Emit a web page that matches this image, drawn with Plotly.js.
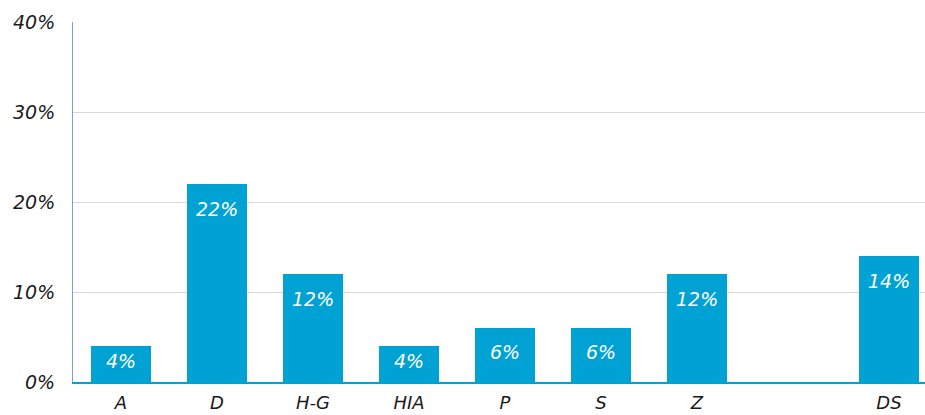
<!DOCTYPE html>
<html>
<head>
<meta charset="utf-8">
<script src="https://cdn.plot.ly/plotly-3.0.1.min.js"></script>
<style>html,body{margin:0;padding:0;background:#fff}#chart{width:925px;height:415px}</style>
</head>
<body>
<div id="chart"></div>
<script>
const categories = ["A", "D", "H-G", "HIA", "P", "S", "Z", " ", "DS"];
const values = [4, 22, 12, 4, 6, 6, 12, null, 14];
const yTickVals = [0, 10, 20, 30, 40];
const yTickText = ["0%", "10%", "20%", "30%", "40%"];

const FONT = "DejaVu Sans, Verdana, sans-serif";
const pxPerUnit = 360 / 40;

const annotations = [];
categories.forEach((c, i) => {
  const v = values[i];
  if (v === null) return;
  annotations.push({
    x: c, y: v, xref: "x", yref: "y",
    text: "<i>" + v + "%</i>",
    showarrow: false,
    yanchor: "middle",
    yshift: -Math.min(25, v * pxPerUnit / 2 - 3),
    font: {family: FONT, size: 19, color: "#ffffff"}
  });
});

const trace = {
  type: "bar",
  x: categories,
  y: values,
  marker: {color: "#00a2d3"},
  hoverinfo: "skip"
};

const layout = {
  width: 925, height: 415,
  margin: {l: 73, r: 0, t: 22, b: 33, pad: 0},
  paper_bgcolor: "#ffffff",
  plot_bgcolor: "#ffffff",
  showlegend: false,
  bargap: 0.375,
  font: {family: FONT, color: "#1a1a1a"},
  xaxis: {
    type: "category",
    range: [-0.5, 8.375],
    showgrid: false,
    showline: true,
    linecolor: "#00a2d3",
    linewidth: 1.5,
    ticks: "",
    ticklabelstandoff: 4,
    tickfont: {family: FONT, size: 18, color: "#1a1a1a", style: "italic"},
    fixedrange: true
  },
  yaxis: {
    range: [0, 40],
    tickvals: yTickVals,
    ticktext: yTickText,
    showgrid: true,
    gridcolor: "#d9d9d9",
    gridwidth: 1,
    zeroline: false,
    showline: true,
    linecolor: "#7f9fd0",
    linewidth: 1,
    ticks: "",
    ticklabelstandoff: 13,
    tickfont: {family: FONT, size: 19, color: "#1a1a1a", style: "italic"},
    fixedrange: true
  },
  annotations: annotations
};

Plotly.newPlot("chart", [trace], layout, {displayModeBar: false, staticPlot: true});
</script>
</body>
</html>
